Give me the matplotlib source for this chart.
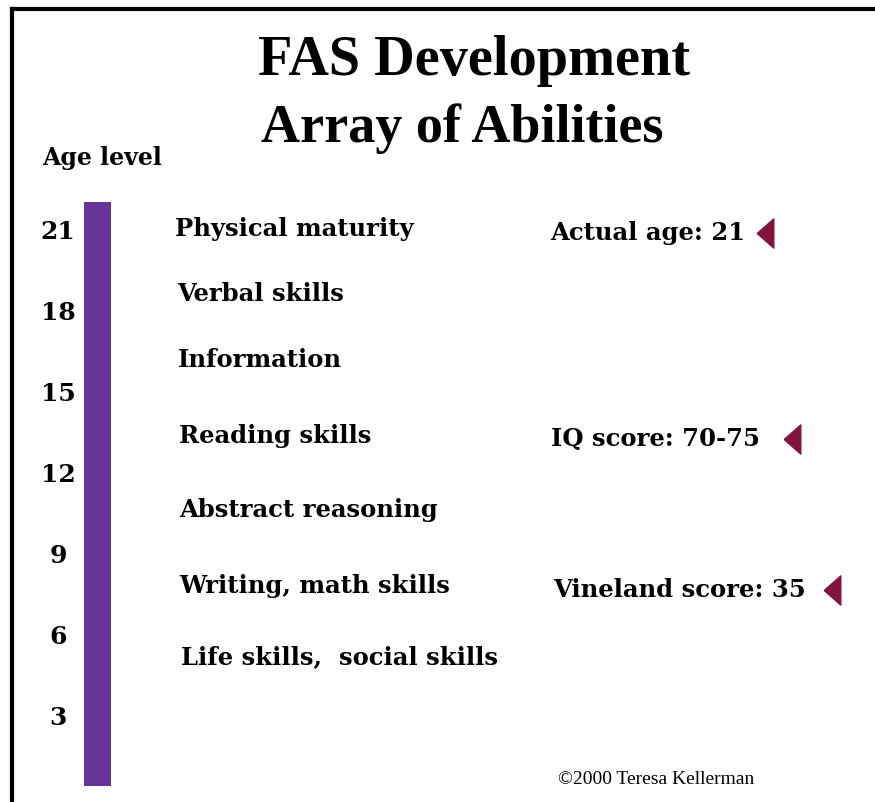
import matplotlib.pyplot as plt
from matplotlib.lines import Line2D

# Dados
ages = [21, 18, 15, 12, 9, 6, 3]
abilities = ["Physical maturity", "Verbal skills", "Information", "Reading skills",
             "Abstract reasoning", "Writing, math skills", "Life skills,  social skills"]
ability_ages = [21.1, 18.7, 16.25, 13.45, 10.7, 7.9, 5.25]
scores = ["Actual age: 21", "IQ score: 70-75", "Vineland score: 35"]
score_ages = [20.95, 13.35, 7.75]
bar_bottom = 0.5
bar_top = 22.1

W, H = 875, 802
fig = plt.figure(figsize=(W / 100, H / 100), dpi=100)
ax = fig.add_axes([0, 0, 1, 1])
ax.set_xlim(0, W)
# 27 px por ano, idade 21 em y=232 px
ax.set_ylim(3 - (H - 718) / 27, 21 + 232 / 27)
ax.axis('off')

# Barra vertical da idade
ax.bar(97.5, bar_top - bar_bottom, bottom=bar_bottom, width=27, color='#663399')

# Rótulos de idade
for a in ages:
    ax.text(58, a, str(a), ha='center', va='center', family='DejaVu Serif',
            fontweight='bold', fontsize=18)

# Habilidades
x_ab = [175, 177, 178, 179, 179, 179, 181]
for x, lab, a in zip(x_ab, abilities, ability_ages):
    ax.text(x, a, lab, ha='left', va='center', family='DejaVu Serif',
            fontweight='bold', fontsize=17.5)

# Pontuações com triângulos
x_sc = [550, 551, 553]
x_mk = [765, 792, 832]
tri = [(-0.57, 0), (0.57, 1), (0.57, -1), (-0.57, 0)]
for x, xm, lab, a in zip(x_sc, x_mk, scores, score_ages):
    ax.text(x, a, lab, ha='left', va='center', family='DejaVu Serif',
            fontweight='bold', fontsize=17.5)
    ax.plot(xm, a, marker=tri, markersize=21, color='#80143f', linestyle='none')

# Títulos
fig.text(474 / W, 1 - 61 / H, "FAS Development", ha='center', va='center',
         family='Liberation Serif', fontweight='bold', fontsize=40.5)
fig.text(462 / W, 1 - 129 / H, "Array of Abilities", ha='center', va='center',
         family='Liberation Serif', fontweight='bold', fontsize=39)
fig.text(42 / W, 1 - 158 / H, "Age level", ha='left', va='center',
         family='DejaVu Serif', fontweight='bold', fontsize=17)
fig.text(558 / W, 1 - 780 / H, "\u00a92000 Teresa Kellerman", ha='left', va='center',
         family='Liberation Serif', fontsize=14)

# Moldura (esquerda e topo)
fig.add_artist(Line2D([12 / W, 12 / W], [0, 1 - 9 / H], color='black', linewidth=3))
fig.add_artist(Line2D([12 / W, 1], [1 - 9 / H, 1 - 9 / H], color='black', linewidth=3))

fig.savefig('out.png', dpi=100)
